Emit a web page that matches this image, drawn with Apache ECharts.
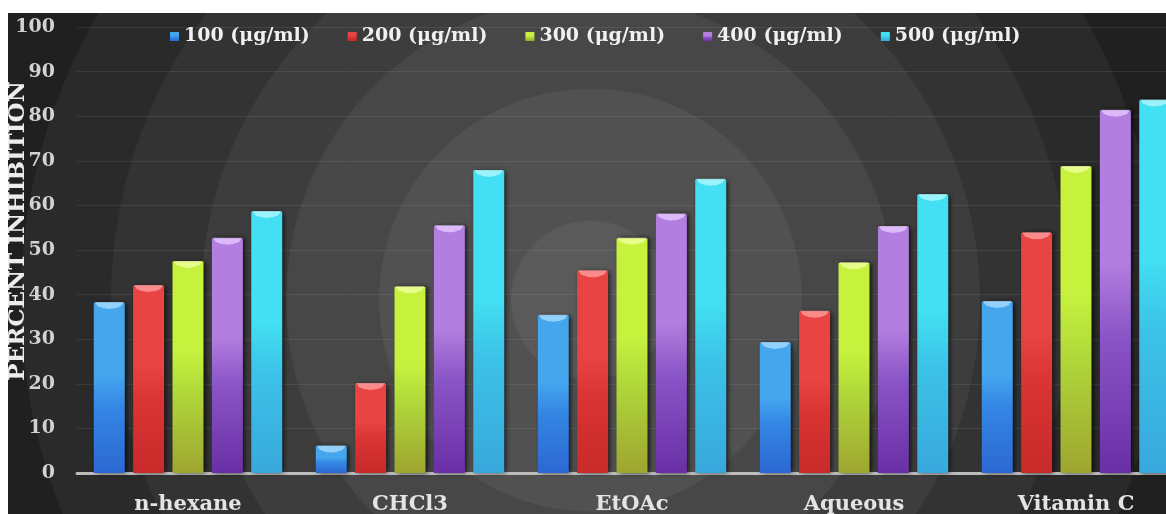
<!DOCTYPE html>
<html>
<head>
<meta charset="utf-8">
<script src="https://cdn.jsdelivr.net/npm/echarts@6/dist/echarts.min.js"></script>
<style>
  html, body { margin: 0; padding: 0; background: #ffffff; }
  #chart { position: absolute; left: 8px; top: 13px; width: 1158px; height: 501px; }
</style>
</head>
<body>
<div id="chart"></div>
<script>
// Extracts tested against the DPPH assay, with vitamin C as the standard
const categories = ['n-hexane', 'CHCl3', 'EtOAc', 'Aqueous', 'Vitamin C'];
const concentrations = ['100 (μg/ml)', '200 (μg/ml)', '300 (μg/ml)', '400 (μg/ml)', '500 (μg/ml)'];

// Percent inhibition per extract, one array per concentration
const inhibition100 = [38.2, 6.0, 35.3, 29.2, 38.4];
const inhibition200 = [42.0, 20.0, 45.3, 36.2, 53.8];
const inhibition300 = [47.4, 41.7, 52.6, 47.1, 68.7];
const inhibition400 = [52.6, 55.4, 58.0, 55.2, 81.3];
const inhibition500 = [58.6, 67.8, 65.8, 62.4, 83.6];
const seriesValues = [inhibition100, inhibition200, inhibition300, inhibition400, inhibition500];

const yMin = 0, yMax = 100, yStep = 10;

// Glossy bar shades: [top, middle, bottom]
const shades = [
  ['#45a6ee', '#3486e4', '#2c68d2'],
  ['#e84444', '#da3434', '#c82a2a'],
  ['#c6f23e', '#b0d83a', '#9ea530'],
  ['#b27ee0', '#8a55c6', '#6a2fa6'],
  ['#42e0f2', '#3cc2e8', '#38a8dc']
];
const capShades = ['#a6dcff', '#ff9c9c', '#eeffa0', '#e6c8ff', '#b0f6ff'];

function barFill(s) {
  return new echarts.graphic.LinearGradient(0, 0, 0, 1, [
    { offset: 0, color: s[0] },
    { offset: 0.42, color: s[0] },
    { offset: 0.62, color: s[1] },
    { offset: 1, color: s[2] }
  ]);
}

// Concentric rings of the dark backdrop: [outer radius in px, grey]
const ringRadius = 600;
const rings = [
  [80, '#5a5a5a'],
  [212, '#515151'],
  [305, '#474747'],
  [390, '#3d3d3d'],
  [480, '#333333'],
  [570, '#2a2a2a'],
  [600, '#202020']
];
const ringStops = [];
let inner = 0;
rings.forEach(function (ring) {
  ringStops.push({ offset: inner / ringRadius, color: ring[1] });
  ringStops.push({ offset: ring[0] / ringRadius - 0.002, color: ring[1] });
  inner = ring[0];
});

const series = [];
concentrations.forEach(function (name, i) {
  series.push({
    name: name,
    type: 'bar',
    data: seriesValues[i],
    barWidth: 31,
    barGap: '27%',
    itemStyle: {
      color: barFill(shades[i]),
      shadowColor: 'rgba(0,0,0,0.8)',
      shadowBlur: 5,
      shadowOffsetX: 2
    }
  });
});
// Lighter rounded caps sitting on top of each bar
concentrations.forEach(function (name, i) {
  series.push({
    name: name,
    type: 'pictorialBar',
    data: seriesValues[i],
    barWidth: 31,
    barGap: '27%',
    symbol: 'path://M0,0 L20,0 L18,3 Q10,7 2,3 Z',
    symbolSize: [29, 7],
    symbolPosition: 'end',
    symbolOffset: [0, '-10%'],
    z: 3,
    itemStyle: { color: capShades[i], opacity: 0.8 },
    silent: true
  });
});

const serif = 'DejaVu Serif';
const chart = echarts.init(document.getElementById('chart'), null, { renderer: 'canvas' });
chart.setOption({
  animation: false,
  backgroundColor: {
    type: 'radial', x: 0.503, y: 0.573, r: ringRadius / 501,
    colorStops: ringStops
  },
  textStyle: { fontFamily: serif },
  legend: {
    data: concentrations,
    left: 157,
    top: 9,
    itemWidth: 9,
    itemHeight: 9,
    itemGap: 38,
    icon: 'rect',
    textStyle: { color: '#f0f0f0', fontSize: 19, fontFamily: serif, fontWeight: 'bold' }
  },
  grid: { left: 69, right: -21, top: 14, bottom: 41, containLabel: false, outerBoundsMode: 'none' },
  xAxis: {
    type: 'category',
    data: categories,
    axisLine: { show: true, lineStyle: { color: '#bcbcbc', width: 3 } },
    axisTick: { show: false },
    axisLabel: {
      color: '#e4e4e4',
      fontSize: 21,
      fontWeight: 'bold',
      fontFamily: serif,
      margin: 21
    }
  },
  yAxis: {
    type: 'value',
    min: yMin,
    max: yMax,
    interval: yStep,
    name: 'PERCENT INHIBITION',
    nameLocation: 'middle',
    nameGap: 47,
    nameMoveOverlap: false,
    nameTextStyle: { color: '#ececec', fontSize: 23, fontWeight: 'bold', fontFamily: serif, padding: [0, 0, 0, 38] },
    axisLine: { show: false },
    axisTick: { show: false },
    axisLabel: { color: '#d2d2d2', fontSize: 19, fontWeight: 'bold', fontFamily: serif, margin: 22 },
    splitLine: { show: true, lineStyle: { color: 'rgba(255,255,255,0.08)', width: 1 } }
  },
  series: series
});
</script>
</body>
</html>
